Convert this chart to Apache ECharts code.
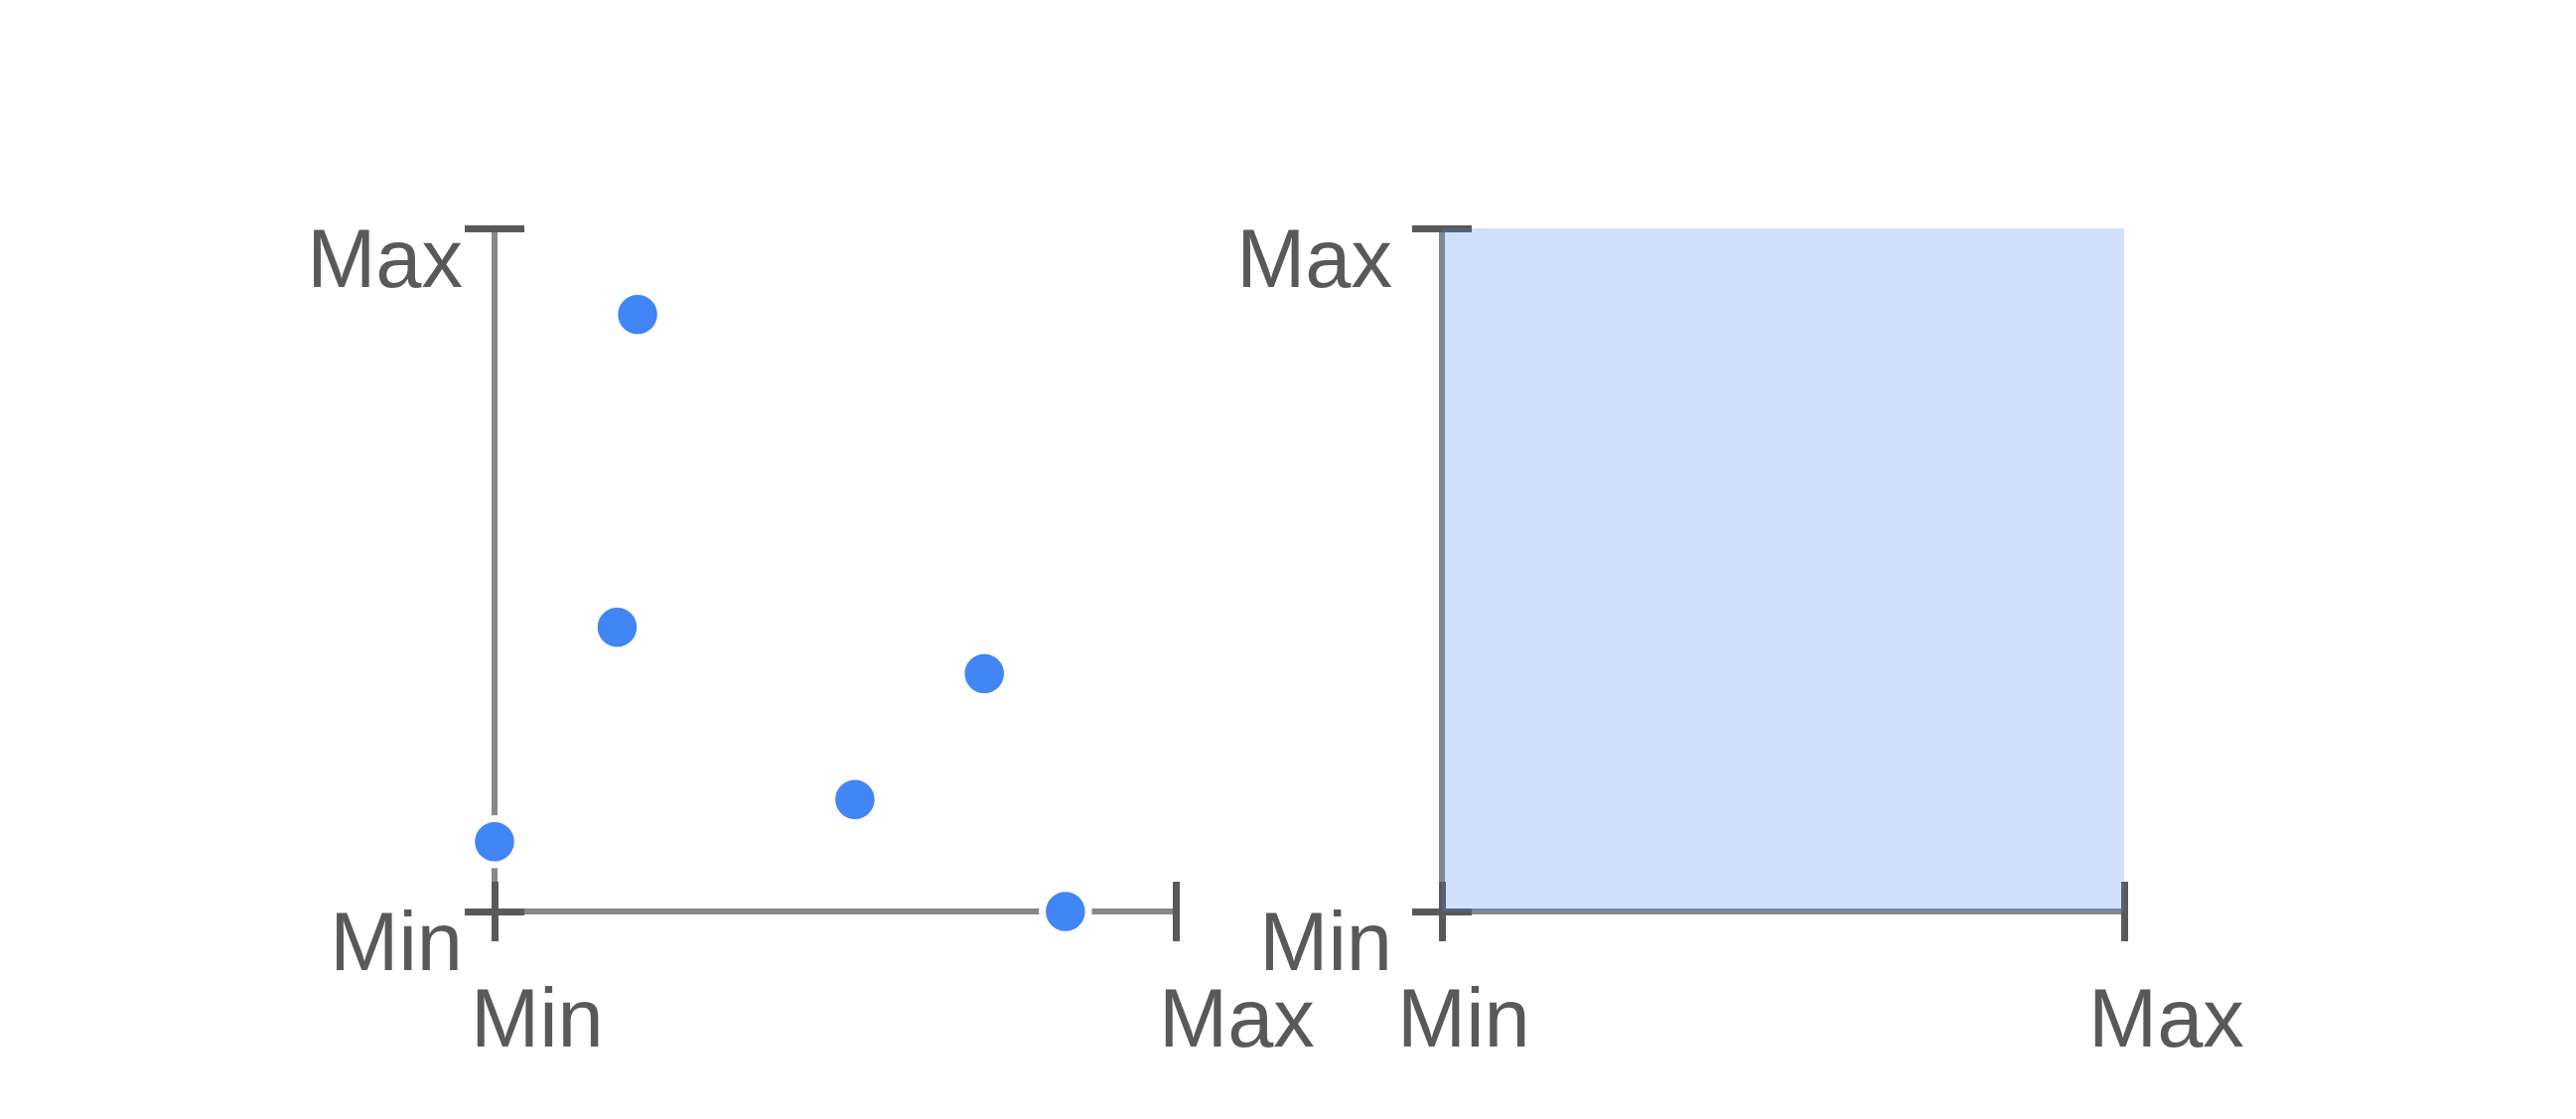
<!DOCTYPE html>
<html>
<head>
<meta charset="utf-8">
<script src="https://cdn.jsdelivr.net/npm/echarts@6/dist/echarts.min.js"></script>
<style>
  html, body { margin: 0; padding: 0; background: #fff; }
  #main { width: 2594px; height: 1127px; }
</style>
</head>
<body>
<div id="main"></div>
<script>
// data (axes run from Min = 0 to Max = 1)
const tickValues = [0, 1];
const tickLabels = ['Min', 'Max'];
const pointX = [0.21, 0.18, 0.719, 0.529, 0.0, 0.838];
const pointY = [0.874, 0.416, 0.348, 0.164, 0.102, 0.0];
const rangeBox = [[0, 0], [1, 1]];   // shaded area on the right: Min..Max both ways

const labelColor = '#595959';
const lineColor = '#888888';
const font = 'Liberation Sans';

const chart = echarts.init(document.getElementById('main'));

function labelText(v) {
    return tickLabels[tickValues.indexOf(v)];
}

// one axis: outer ticks + labels + line, or inner ticks only
function axis(gridIndex, inner, label) {
    return {
        type: 'value',
        gridIndex: gridIndex,
        min: tickValues[0],
        max: tickValues[tickValues.length - 1],
        interval: tickValues[1] - tickValues[0],
        splitLine: { show: false },
        axisLine: { show: !inner, onZero: false, lineStyle: { color: lineColor, width: 6 } },
        axisTick: { show: true, inside: inner, length: 30, lineStyle: { color: labelColor, width: 7 } },
        axisLabel: inner ? { show: false } : label
    };
}

function xLabel(offMin, offMax) {
    return {
        show: true,
        margin: 82,
        align: 'left',
        formatter: function (v) {
            return (v === tickValues[0] ? '{lo|' : '{hi|') + labelText(v) + '}';
        },
        rich: {
            lo: { fontFamily: font, fontSize: 83, color: labelColor, lineHeight: 62, padding: [0, 0, 0, offMin] },
            hi: { fontFamily: font, fontSize: 83, color: labelColor, lineHeight: 62, padding: [0, 0, 0, offMax] }
        }
    };
}

function yLabel(margin) {
    return {
        show: true,
        margin: margin,
        verticalAlign: 'top',
        lineHeight: 72,
        fontFamily: font,
        fontSize: 83,
        color: labelColor,
        formatter: labelText
    };
}

const scatterData = pointX.map(function (x, i) { return [x, pointY[i]]; });

option = {
    animation: false,
    grid: [
        { left: 498, top: 230, width: 686, height: 688 },
        { left: 498, top: 230, width: 686, height: 688 },
        { left: 1452, top: 230, width: 687, height: 688 },
        { left: 1452, top: 230, width: 687, height: 688 }
    ],
    xAxis: [
        axis(0, false, xLabel(-24, -17)),
        axis(1, true),
        axis(2, false, xLabel(-45, -36)),
        axis(3, true)
    ],
    yAxis: [
        axis(0, false, yLabel(32)),
        axis(1, true),
        axis(2, false, yLabel(50)),
        axis(3, true)
    ],
    series: [
        {
            type: 'scatter',
            xAxisIndex: 0,
            yAxisIndex: 0,
            symbol: 'circle',
            symbolSize: 46.5,
            itemStyle: { color: '#4285F4', borderColor: '#ffffff', borderWidth: 7, opacity: 1 },
            data: scatterData
        },
        {
            type: 'scatter',
            xAxisIndex: 2,
            yAxisIndex: 2,
            data: [],
            markArea: {
                silent: true,
                itemStyle: { color: 'rgba(66,133,244,0.25)' },
                data: [[
                    { xAxis: rangeBox[0][0], yAxis: rangeBox[0][1] },
                    { xAxis: rangeBox[1][0], yAxis: rangeBox[1][1] }
                ]]
            }
        }
    ]
};

chart.setOption(option);
</script>
</body>
</html>
